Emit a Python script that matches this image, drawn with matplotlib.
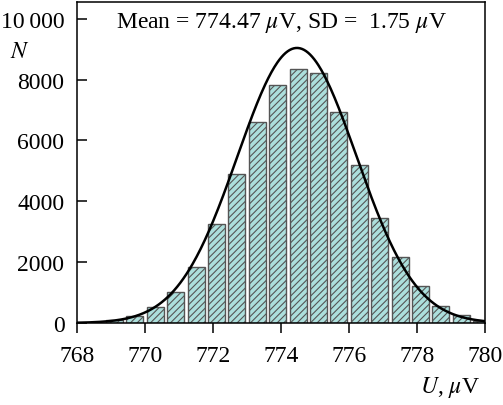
import numpy as np
import matplotlib
matplotlib.use("Agg")
import matplotlib.pyplot as plt

plt.rcParams['font.family'] = ['Liberation Serif', 'DejaVu Serif']
plt.rcParams['mathtext.fontset'] = 'stix'
plt.rcParams['hatch.linewidth'] = 0.8
plt.rcParams['hatch.color'] = 'black'

# Data
bin_centers = [769.1, 769.7, 770.3, 770.9, 771.5, 772.1, 772.7, 773.3, 773.9, 774.5,
               775.1, 775.7, 776.3, 776.9, 777.5, 778.1, 778.7, 779.3, 779.9]
counts = [110, 220, 520, 1020, 1830, 3250, 4900, 6600, 7830, 8350,
          8220, 6930, 5200, 3450, 2180, 1220, 555, 276, 80]
fit_mean = 774.47
fit_sd = 1.75
fit_peak = 9040
xticks = [768, 770, 772, 774, 776, 778, 780]
yticks = [0, 2000, 4000, 6000, 8000, 10000]
ytick_labels = ['0', '2000', '4000', '6000', '8000', '10\u2009000']

fig = plt.figure(figsize=(5.03, 4.06), dpi=100)
ax = fig.add_axes([77/503, 1-324/406, (485-77)/503, (324-3)/406])

ax.bar(bin_centers, counts, width=0.5, color='#acdfdc', edgecolor='#555555',
       linewidth=1.0, hatch='/////', zorder=2)

xs = np.linspace(768, 780, 400)
ys = fit_peak * np.exp(-0.5 * ((xs - fit_mean) / fit_sd) ** 2)
ax.plot(xs, ys, color='black', lw=1.8, zorder=3)

ax.set_xlim(768, 780)
ax.set_ylim(0, 10550)
ax.set_xticks(xticks)
ax.set_xticklabels([str(t) for t in xticks])
ax.set_yticks(yticks)
ax.set_yticklabels(ytick_labels)

for s in ax.spines.values():
    s.set_linewidth(1.1)
ax.tick_params(axis='x', direction='out', length=7, width=1.1, labelsize=17, pad=9)
ax.tick_params(axis='y', direction='in', length=7, width=1.1, labelsize=17, pad=9)

ax.text(0.5, 0.975, r'Mean = 774.47 $\mu$V, SD =  1.75 $\mu$V', transform=ax.transAxes,
        ha='center', va='top', fontsize=17)
fig.text(20/503, 1-52/406, r'$N$', ha='center', va='center', fontsize=17)
fig.text(480/503, 1-388/406, r'$U$, $\mu$V', ha='right', va='center', fontsize=17)

fig.savefig('out.png', dpi=100)
